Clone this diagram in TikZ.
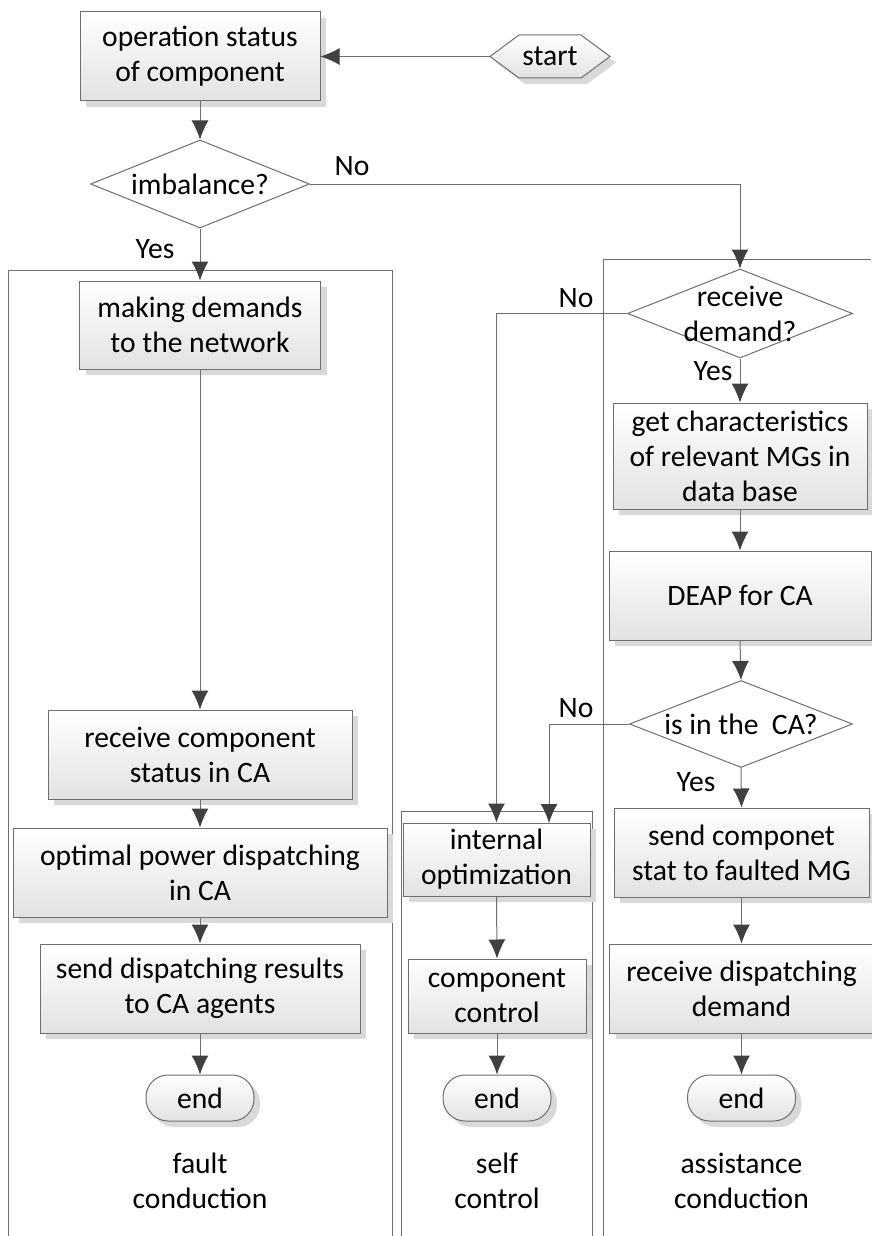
\documentclass[tikz,border=0pt]{standalone}
\usepackage{fontspec}
\setmainfont{Carlito}
\usetikzlibrary{shapes.geometric,arrows.meta,shadows,calc}
\definecolor{lc}{HTML}{6E6E6E}
\definecolor{ah}{HTML}{404040}
\definecolor{bot}{HTML}{E2E2E2}
\definecolor{shd}{HTML}{D9D9D9}
\begin{document}
\begin{tikzpicture}[x=1pt,y=-1pt,
  txt/.style={font=\fontsize{29.6}{35}\selectfont, align=center, inner sep=0pt},
  proc/.style={txt, draw=lc, line width=1pt, top color=white, bottom color=bot,
    drop shadow={shadow xshift=6pt, shadow yshift=-6pt, fill=shd, opacity=1}},
  term/.style={proc, rounded corners=22pt, minimum width=108pt, minimum height=46pt},
  dec/.style={diamond, draw=lc, line width=1pt, fill=white, inner sep=0pt},
  lane/.style={draw=lc, line width=1pt},
  arr/.style={draw=lc, line width=1pt, -{Latex[length=19pt,width=17pt,fill=ah,color=ah]}},
  lbl/.style={txt}
]
\useasboundingbox (0,0) rectangle (871,1236);

% lanes
\draw[lane] (8,1236) -- (8,270) -- (392,270) -- (392,1236);
\draw[lane] (401,1236) -- (401,811) -- (592,811) -- (592,1236);
\draw[lane] (603,1236) -- (603,259) -- (871,259);

% start hexagon
\path[draw=lc, line width=1pt, top color=white, bottom color=bot,
  drop shadow={shadow xshift=6pt, shadow yshift=-6pt, fill=shd, opacity=1}]
  (490,56.5) -- (519,35) -- (581,35) -- (610,56.5) -- (581,78) -- (519,78) -- cycle;
\node[txt, minimum width=120pt, minimum height=43pt] (start) at (550,56.5) {start};

\node[proc, minimum width=240pt, minimum height=89pt] (op) at (200,56.5) {operation status\\of component};
\node[dec, minimum width=219pt, minimum height=88pt, label={[txt]center:imbalance?}] (imb) at (200,184) {};

% fault conduction
\node[proc, minimum width=241pt, minimum height=88pt] (mk) at (200,325) {making demands\\to the network};
\node[proc, minimum width=304pt, minimum height=89pt] (rc) at (200,754.5) {receive component\\status in CA};
\node[proc, minimum width=374pt, minimum height=89pt] (opt) at (200,872.5) {optimal power dispatching\\in CA};
\node[proc, minimum width=320pt, minimum height=89pt] (sd) at (200,988.5) {send dispatching results\\to CA agents};
\node[term] (e1) at (200,1098) {end};
\node[txt] (l1) at (200,1181) {fault\\conduction};

% self control
\node[proc, minimum width=187pt, minimum height=73pt] (io) at (496.5,859.5) {internal\\optimization};
\node[proc, minimum width=178pt, minimum height=74pt] (cc) at (497,996) {component\\control};
\node[term] (e2) at (497,1098) {end};
\node[txt] (l2) at (497,1181) {self\\control};
\coordinate (ioin) at (549,823);

% assistance conduction
\node[dec, minimum width=225pt, minimum height=89pt, label={[txt]center:receive\\demand?}] (rd) at (740,313.5) {};
\node[proc, minimum width=254pt, minimum height=106pt] (gc) at (740,456) {get characteristics\\of relevant MGs in\\data base};
\node[proc, minimum width=262pt, minimum height=89pt] (deap) at (740,595.5) {DEAP for CA};
\node[dec, minimum width=223pt, minimum height=87pt, label={[txt]center:is in the\ \ CA?}] (isca) at (741,724) {};
\node[proc, minimum width=255pt, minimum height=89pt] (scs) at (741.5,852.5) {send componet\\stat to faulted MG};
\node[proc, minimum width=264pt, minimum height=89pt] (rdd) at (741.5,988.5) {receive dispatching\\demand};
\node[term] (e3) at (741.5,1098) {end};
\node[txt] (l3) at (741.5,1181) {assistance\\conduction};

% connectors
\draw[arr] (start.west) -- (op.east);
\draw[arr] (op.south) -- (imb.north);
\draw[arr] (imb.east) -| (rd.north);
\draw[arr] (imb.south) -- (mk.north);
\draw[arr] (mk.south) -- (rc.north);
\draw[arr] (rc.south) -- (opt.north);
\draw[arr] (opt.south) -- (sd.north);
\draw[arr] (sd.south) -- (e1.north);
\draw[arr] (rd.west) -| (io.north);
\draw[arr] (rd.south) -- (gc.north);
\draw[arr] (gc.south) -- (deap.north);
\draw[arr] (deap.south) -- (isca.north);
\draw[arr] (isca.west) -| (ioin);
\draw[arr] (isca.south) -- (scs.north);
\draw[arr] (scs.south) -- (rdd.north);
\draw[arr] (rdd.south) -- (e3.north);
\draw[arr] (io.south) -- (cc.north);
\draw[arr] (cc.south) -- (e2.north);

% branch labels
\node[lbl] (n1) at (352,166) {No};
\node[lbl] (y1) at (155,249) {Yes};
\node[lbl] (n2) at (576,298) {No};
\node[lbl] (y2) at (713,371) {Yes};
\node[lbl] (n3) at (576,708) {No};
\node[lbl] (y3) at (696,782) {Yes};
\end{tikzpicture}
\end{document}
